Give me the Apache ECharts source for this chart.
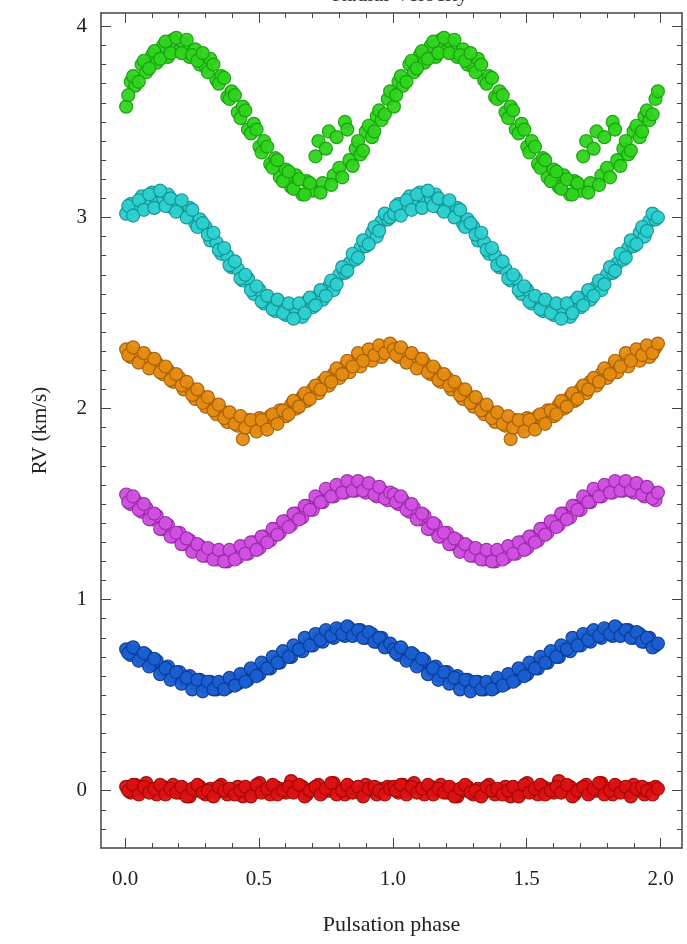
<!DOCTYPE html>
<html>
<head>
<meta charset="utf-8">
<script src="https://cdn.jsdelivr.net/npm/echarts@6/dist/echarts.min.js"></script>
<style>
	html, body { margin: 0; padding: 0; background: #fff; }
	#chartmain { width: 687px; height: 944px; }
</style>
</head>
<body>
<div id="chartmain"></div>
<script>
// pulsation phase of each point (one cycle, drawn again at phase + 1)
var phaseA = [0.004, 0.021, 0.038, 0.062, 0.079, 0.101, 0.118, 0.142, 0.160, 0.179,
	0.203, 0.219, 0.241, 0.262, 0.279, 0.301, 0.318, 0.341, 0.359, 0.382,
	0.398, 0.421, 0.440, 0.459, 0.481, 0.502, 0.519, 0.542, 0.561, 0.578,
	0.601, 0.620, 0.639, 0.662, 0.679, 0.701, 0.722, 0.738, 0.761, 0.779,
	0.800, 0.821, 0.838, 0.861, 0.879, 0.899, 0.922, 0.940, 0.958, 0.981];
var phaseB = [0.012, 0.030, 0.051, 0.070, 0.090, 0.109, 0.131, 0.151, 0.170, 0.191,
	0.211, 0.230, 0.251, 0.270, 0.290, 0.309, 0.330, 0.350, 0.370, 0.390,
	0.410, 0.431, 0.449, 0.470, 0.491, 0.510, 0.531, 0.551, 0.569, 0.590,
	0.611, 0.629, 0.650, 0.671, 0.690, 0.711, 0.730, 0.750, 0.770, 0.790,
	0.811, 0.830, 0.850, 0.870, 0.889, 0.910, 0.931, 0.949, 0.970, 0.990];

var rvRedA = [0.02, -0.01, 0.03, 0.00, 0.04, 0.01, -0.02, 0.02, 0.00, 0.03,
	-0.01, 0.01, -0.03, 0.00, 0.02, -0.02, 0.01, -0.01, 0.03, -0.02,
	0.00, 0.02, -0.03, 0.01, -0.01, 0.04, 0.00, -0.02, 0.02, 0.01,
	-0.01, 0.05, 0.00, 0.02, -0.02, 0.01, 0.03, -0.01, 0.00, 0.04,
	0.01, -0.02, 0.02, 0.00, -0.01, 0.03, 0.00, -0.02, 0.01, 0.02];
var rvRedB = [0.00, 0.03, -0.02, 0.02, -0.01, 0.01, 0.03, -0.02, 0.01, -0.01,
	0.02, -0.03, 0.01, 0.03, -0.01, 0.00, -0.03, 0.02, 0.00, 0.01,
	-0.02, 0.00, 0.02, -0.03, 0.03, -0.01, 0.01, 0.03, -0.02, 0.00,
	0.02, -0.01, 0.03, -0.03, 0.00, 0.02, -0.02, 0.01, 0.04, -0.02,
	0.00, 0.03, -0.01, 0.02, -0.03, 0.01, 0.02, 0.00, -0.02, 0.01];

var rvBlueA = [0.74, 0.71, 0.73, 0.69, 0.71, 0.66, 0.68, 0.63, 0.65, 0.60,
	0.62, 0.58, 0.60, 0.56, 0.58, 0.54, 0.57, 0.53, 0.56, 0.54,
	0.58, 0.56, 0.60, 0.58, 0.63, 0.61, 0.65, 0.64, 0.68, 0.67,
	0.71, 0.70, 0.74, 0.73, 0.77, 0.76, 0.80, 0.78, 0.82, 0.80,
	0.84, 0.81, 0.85, 0.82, 0.84, 0.80, 0.82, 0.78, 0.80, 0.76];
var rvBlueB = [0.72, 0.75, 0.68, 0.72, 0.65, 0.69, 0.61, 0.64, 0.58, 0.62,
	0.56, 0.59, 0.53, 0.58, 0.52, 0.57, 0.53, 0.57, 0.53, 0.59,
	0.55, 0.61, 0.57, 0.64, 0.60, 0.67, 0.64, 0.70, 0.67, 0.73,
	0.70, 0.76, 0.74, 0.80, 0.76, 0.82, 0.79, 0.84, 0.81, 0.85,
	0.82, 0.86, 0.81, 0.84, 0.80, 0.83, 0.78, 0.80, 0.75, 0.77];

var rvMagentaA = [1.55, 1.50, 1.52, 1.46, 1.48, 1.42, 1.44, 1.37, 1.39, 1.33,
	1.35, 1.29, 1.31, 1.26, 1.28, 1.23, 1.26, 1.21, 1.24, 1.20,
	1.25, 1.22, 1.27, 1.24, 1.30, 1.27, 1.33, 1.31, 1.37, 1.35,
	1.41, 1.39, 1.45, 1.43, 1.49, 1.47, 1.53, 1.51, 1.56, 1.54,
	1.59, 1.56, 1.61, 1.57, 1.60, 1.56, 1.59, 1.54, 1.57, 1.52];
var rvMagentaB = [1.51, 1.54, 1.47, 1.50, 1.42, 1.45, 1.37, 1.40, 1.33, 1.35,
	1.29, 1.32, 1.25, 1.29, 1.23, 1.27, 1.21, 1.26, 1.20, 1.26,
	1.21, 1.28, 1.24, 1.30, 1.26, 1.33, 1.30, 1.37, 1.34, 1.41,
	1.38, 1.45, 1.42, 1.49, 1.47, 1.54, 1.51, 1.58, 1.54, 1.60,
	1.56, 1.62, 1.57, 1.62, 1.57, 1.61, 1.55, 1.59, 1.53, 1.56];

var rvOrangeA = [2.31, 2.27, 2.29, 2.25, 2.27, 2.22, 2.24, 2.18, 2.20, 2.14,
	2.16, 2.10, 2.11, 2.05, 2.07, 2.01, 2.03, 1.97, 1.99, 1.93,
	1.96, 1.91, 1.84, 1.94, 1.90, 1.95, 1.91, 1.96, 1.93, 1.99,
	1.96, 2.02, 2.00, 2.06, 2.04, 2.10, 2.08, 2.14, 2.12, 2.18,
	2.16, 2.22, 2.19, 2.25, 2.22, 2.28, 2.25, 2.30, 2.27, 2.32];
var rvOrangeB = [2.28, 2.32, 2.24, 2.29, 2.21, 2.26, 2.19, 2.22, 2.15, 2.18,
	2.12, 2.14, 2.07, 2.10, 2.03, 2.06, 1.99, 2.02, 1.95, 1.98,
	1.92, 1.96, 1.90, 1.94, 1.88, 1.94, 1.89, 1.97, 1.92, 1.99,
	1.97, 2.04, 2.01, 2.08, 2.05, 2.12, 2.10, 2.16, 2.14, 2.21,
	2.18, 2.25, 2.22, 2.29, 2.25, 2.31, 2.28, 2.33, 2.29, 2.34];

var rvCyanA = [3.02, 3.07, 3.04, 3.11, 3.06, 3.13, 3.08, 3.10, 3.12, 3.05,
	3.08, 3.03, 3.05, 2.97, 2.99, 2.95, 2.88, 2.87, 2.81, 2.80,
	2.74, 2.73, 2.67, 2.68, 2.60, 2.62, 2.55, 2.57, 2.51, 2.55,
	2.49, 2.54, 2.51, 2.48, 2.56, 2.53, 2.59, 2.57, 2.64, 2.62,
	2.70, 2.71, 2.76, 2.78, 2.84, 2.85, 2.92, 2.90, 2.98, 2.99];
var rvCyanB = [3.06, 3.01, 3.09, 3.04, 3.12, 3.05, 3.14, 3.06, 3.10, 3.03,
	3.09, 3.00, 3.04, 2.95, 2.97, 2.91, 2.92, 2.83, 2.84, 2.75,
	2.77, 2.68, 2.70, 2.62, 2.64, 2.56, 2.59, 2.52, 2.57, 2.50,
	2.55, 2.47, 2.55, 2.50, 2.58, 2.54, 2.62, 2.59, 2.67, 2.65,
	2.74, 2.72, 2.81, 2.79, 2.88, 2.86, 2.95, 2.93, 3.02, 3.00];

var rvGreenA = [3.58, 3.71, 3.69, 3.80, 3.76, 3.85, 3.81, 3.90, 3.84, 3.93,
	3.87, 3.91, 3.84, 3.88, 3.80, 3.79, 3.83, 3.72, 3.74, 3.63,
	3.66, 3.55, 3.58, 3.46, 3.49, 3.37, 3.40, 3.28, 3.31, 3.21,
	3.25, 3.16, 3.22, 3.12, 3.19, 3.14, 3.40, 3.18, 3.45, 3.22,
	3.26, 3.50, 3.30, 3.36, 3.33, 3.45, 3.42, 3.53, 3.51, 3.62];
var rvGreenB = [3.64, 3.74, 3.71, 3.82, 3.78, 3.87, 3.83, 3.92, 3.86, 3.94,
	3.86, 3.93, 3.85, 3.82, 3.86, 3.76, 3.80, 3.70, 3.73, 3.62,
	3.64, 3.52, 3.56, 3.44, 3.46, 3.34, 3.37, 3.26, 3.30, 3.19,
	3.24, 3.15, 3.20, 3.12, 3.18, 3.32, 3.13, 3.36, 3.17, 3.42,
	3.21, 3.46, 3.27, 3.40, 3.35, 3.48, 3.45, 3.56, 3.54, 3.66];

var xMajor = [0, 0.5, 1.0, 1.5, 2.0];
var yMajor = [0, 1, 2, 3, 4];

var xMinor = [];
for (var i = 0; i <= 20; i++) xMinor.push(i / 10);
var yMinor = [];
for (var j = -2; j <= 40; j++) yMinor.push(j / 10);

var serif = 'Liberation Serif';
var frameColor = '#444';

// fold: same cycle shown over phase 0-1 and 1-2
function folded(valsA, valsB) {
	var pts = [];
	for (var c = 0; c < 2; c++) {
		for (var k = 0; k < phaseA.length; k++) pts.push([phaseA[k] + c, valsA[k]]);
		for (var k = 0; k < phaseB.length; k++) pts.push([phaseB[k] + c, valsB[k]]);
	}
	return pts;
}

function dots(name, valsA, valsB, fill, edge) {
	return {
		name : name,
		type : 'scatter',
		xAxisIndex : 0,
		yAxisIndex : 0,
		symbolSize : 13,
		data : folded(valsA, valsB),
		itemStyle : {
			color : fill,
			borderColor : edge,
			borderWidth : 1.2,
			opacity : 0.95
		}
	};
}

function xAxisAt(pos, ticks, len, withLabel) {
	return {
		type : 'value',
		position : pos,
		min : -0.09,
		max : 2.08,
		offset : 0,
		axisLine : { show : withLabel !== null, onZero : false, lineStyle : { color : frameColor, width : 1.5 } },
		axisTick : { inside : true, length : len, customValues : ticks, lineStyle : { color : frameColor } },
		axisLabel : withLabel ? {
			customValues : xMajor,
			margin : 21,
			color : '#222',
			fontFamily : serif,
			fontSize : 21,
			formatter : function(v) { return v.toFixed(1); }
		} : { show : false },
		splitLine : { show : false }
	};
}

function yAxisAt(pos, ticks, len, withLabel) {
	return {
		type : 'value',
		position : pos,
		min : -0.3,
		max : 4.07,
		offset : 0,
		axisLine : { show : withLabel !== null, onZero : false, lineStyle : { color : frameColor, width : 1.5 } },
		axisTick : { inside : true, length : len, customValues : ticks, lineStyle : { color : frameColor } },
		axisLabel : withLabel ? {
			customValues : yMajor,
			margin : 14,
			color : '#222',
			fontFamily : serif,
			fontSize : 21
		} : { show : false },
		splitLine : { show : false }
	};
}

var xMain = xAxisAt('bottom', xMajor, 10, true);
xMain.name = 'Pulsation phase';
xMain.nameLocation = 'middle';
xMain.nameGap = 66;
xMain.nameTextStyle = { color : '#222', fontFamily : serif, fontSize : 22 };

var yMain = yAxisAt('left', yMajor, 10, true);
yMain.name = 'RV (km/s)';
yMain.nameLocation = 'middle';
yMain.nameGap = 50;
yMain.nameTextStyle = { color : '#222', fontFamily : serif, fontSize : 21 };

var option = {
	backgroundColor : '#fff',
	animation : false,
	title : {
		text : 'Radial Velocity',
		left : 395,
		textAlign : 'center',
		top : -21,
		textStyle : { color : '#333', fontFamily : serif, fontSize : 22, fontWeight : 'normal' }
	},
	grid : {
		left : 101,
		right : 5,
		top : 13,
		bottom : 96
	},
	xAxis : [
		xMain,
		xAxisAt('bottom', xMinor, 5, null),
		xAxisAt('top', xMajor, 10, false),
		xAxisAt('top', xMinor, 5, null)
	],
	yAxis : [
		yMain,
		yAxisAt('left', yMinor, 5, null),
		yAxisAt('right', yMajor, 10, false),
		yAxisAt('right', yMinor, 5, null)
	],
	series : [
		dots('red', rvRedA, rvRedB, '#dd1111', '#a00808'),
		dots('blue', rvBlueA, rvBlueB, '#1a5fd0', '#0b3c9a'),
		dots('magenta', rvMagentaA, rvMagentaB, '#d050e0', '#9a2aa8'),
		dots('orange', rvOrangeA, rvOrangeB, '#e48c12', '#a85f05'),
		dots('cyan', rvCyanA, rvCyanB, '#2ccfcf', '#129494'),
		dots('green', rvGreenA, rvGreenB, '#2ed31c', '#17a00c')
	]
};

var myChart = echarts.init(document.getElementById('chartmain'));
myChart.setOption(option);
</script>
</body>
</html>
